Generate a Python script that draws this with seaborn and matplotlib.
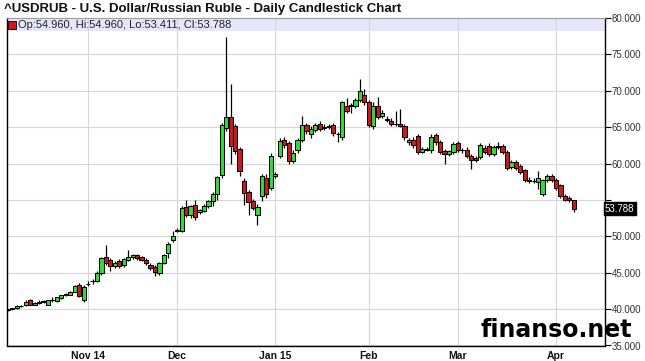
import numpy as np
import pandas as pd
import matplotlib
matplotlib.use("Agg")
import matplotlib.pyplot as plt
import matplotlib.transforms as mtransforms
from matplotlib.patches import Rectangle
import seaborn as sns

# ---------------- data ----------------
holidays = ["2014-12-25", "2015-01-01"]
dates = pd.bdate_range("2014-10-08", "2015-04-07")
dates = dates[~dates.isin(pd.to_datetime(holidays))]

opens = [39.85, 40.0, 40.1, 40.4, 40.5, 41.2, 40.6, 40.9, 41.0, 40.6, 41.2, 41.1, 41.5, 41.9, 42.0, 42.4, 43.3, 41.2,
         43.4, 43.8, 43.9, 44.9, 47.1, 46.7, 45.9, 46.6, 46.0, 46.8, 47.1, 47.4, 47.1, 46.8, 46.1, 45.8, 44.9, 46.4, 47.7, 49.5,
         50.8, 50.8, 54.0, 52.9, 54.3, 53.3, 53.5, 54.1, 54.8, 55.8, 58.4, 64.9, 66.4, 65.1, 62.0, 57.6, 56.1, 54.8, 52.9, 55.6, 58.0, 56.7,
         58.3, 61.0, 63.2, 62.8, 60.3, 61.8, 63.2, 65.3, 64.0, 64.6, 65.4, 64.9, 65.0, 65.3, 64.1, 63.6, 67.9, 67.9, 67.9, 68.7, 69.4,
         68.4, 65.1, 67.9, 66.5, 66.0, 65.8, 65.4, 65.4, 65.2, 62.9, 63.2, 63.8, 61.6, 62.0, 61.8, 63.9, 62.9, 61.7, 61.3, 61.6,
         62.8, 61.9, 61.8, 61.0, 60.7, 60.9, 62.1, 62.4, 61.3, 62.3, 62.4, 61.6, 59.5, 60.2, 59.6, 59.1, 57.8, 57.6, 57.4, 55.8, 57.7, 58.3,
         57.7, 57.0, 55.5, 55.3, 54.96]
highs = [40.05, 40.2, 40.5, 40.6, 41.2, 41.4, 41.0, 41.3, 41.3, 41.3, 41.6, 41.7, 42.0, 42.2, 42.5, 43.3, 43.6, 43.3,
         43.8, 44.1, 45.2, 47.2, 48.8, 47.0, 46.6, 46.9, 47.0, 48.1, 47.6, 47.6, 47.3, 47.0, 46.3, 46.0, 46.5, 47.6, 49.2, 50.7,
         51.2, 54.1, 55.0, 54.3, 55.0, 53.8, 54.4, 55.0, 56.1, 58.3, 65.6, 77.4, 70.9, 65.5, 62.3, 58.0, 56.4, 55.1, 54.4, 58.6, 58.5, 61.5,
         58.8, 63.5, 63.6, 63.1, 61.8, 63.5, 66.5, 65.6, 65.2, 65.6, 65.8, 65.5, 65.4, 65.6, 64.4, 68.6, 69.0, 68.3, 69.0, 71.6, 70.2,
         68.8, 68.5, 69.2, 67.3, 66.5, 66.2, 67.2, 67.5, 65.5, 63.5, 63.6, 64.1, 62.3, 62.3, 64.0, 64.2, 63.2, 62.0, 61.9, 63.0,
         63.1, 62.2, 62.3, 61.3, 61.0, 62.8, 62.5, 62.8, 62.6, 63.0, 62.7, 61.9, 60.5, 60.5, 59.9, 59.3, 58.1, 58.0, 59.0, 57.9, 58.6, 58.6,
         58.0, 57.2, 55.8, 55.5, 54.96]
lows = [39.75, 39.9, 40.0, 40.3, 40.4, 40.5, 40.5, 40.7, 40.8, 40.5, 41.0, 41.0, 41.4, 41.8, 41.9, 42.3, 41.7, 41.0,
        43.2, 43.5, 43.7, 44.7, 46.0, 45.2, 45.7, 45.6, 45.8, 46.6, 46.9, 46.8, 46.6, 46.1, 45.4, 44.6, 44.7, 46.2, 47.0, 49.2,
        50.6, 50.6, 52.7, 52.5, 52.3, 53.0, 53.3, 53.9, 54.2, 55.0, 58.0, 64.5, 60.0, 61.3, 58.3, 54.3, 52.9, 53.6, 51.5, 54.9, 55.3, 56.3,
        58.0, 60.7, 62.2, 60.0, 60.1, 61.5, 63.0, 64.1, 63.5, 64.3, 64.5, 64.6, 64.8, 63.8, 63.0, 63.3, 66.9, 67.0, 67.6, 68.4, 68.0,
        65.0, 64.8, 66.1, 66.2, 65.7, 65.2, 65.1, 65.0, 63.2, 62.5, 62.2, 61.3, 61.4, 61.7, 61.5, 62.6, 61.3, 60.0, 61.0, 61.3,
        61.6, 61.5, 60.8, 59.2, 60.2, 60.6, 61.3, 61.0, 61.0, 62.0, 61.3, 59.1, 59.2, 59.1, 58.5, 57.4, 57.3, 57.3, 56.5, 55.6, 57.4, 57.4,
        56.4, 55.3, 54.8, 54.7, 53.411]
closes = [40.0, 40.1, 40.4, 40.45, 41.0, 40.6, 40.9, 41.0, 41.0, 41.2, 41.3, 41.6, 41.9, 42.1, 42.4, 43.2, 41.8, 43.1,
          43.5, 43.9, 45.0, 47.0, 46.3, 45.9, 46.4, 45.9, 46.9, 47.2, 47.4, 47.0, 46.8, 46.3, 45.6, 45.1, 46.3, 47.4, 49.0, 50.1,
          50.9, 53.9, 52.9, 54.1, 52.6, 53.6, 54.2, 54.8, 55.8, 58.1, 65.3, 66.4, 62.4, 61.7, 59.0, 55.9, 54.7, 53.9, 54.0, 58.3, 55.8, 61.0,
          58.5, 63.1, 62.5, 60.3, 61.4, 63.2, 65.3, 64.5, 64.8, 65.3, 64.8, 65.0, 65.1, 64.2, 64.0, 68.4, 67.2, 68.0, 68.7, 70.0, 68.4,
          65.3, 67.9, 66.4, 66.9, 66.1, 65.5, 65.45, 65.2, 63.6, 63.2, 62.5, 61.6, 62.0, 61.9, 63.6, 62.9, 61.6, 61.3, 61.7, 62.7,
          61.9, 61.8, 61.0, 60.5, 60.5, 62.5, 61.6, 61.3, 62.3, 62.4, 61.6, 59.4, 60.2, 59.4, 58.8, 57.7, 57.6, 57.65, 58.0, 57.7, 58.3, 57.7,
          56.7, 55.6, 55.0, 54.96, 53.788]

month_labels = ["Nov 14", "Dec", "Jan 15", "Feb", "Mar", "Apr"]
month_starts = ["2014-11-03", "2014-12-01", "2015-01-02", "2015-02-02", "2015-03-02", "2015-04-01"]
y_ticks = [35, 40, 45, 50, 55, 60, 65, 70, 75, 80]
title = "^USDRUB - U.S. Dollar/Russian Ruble - Daily Candlestick Chart"

df = pd.DataFrame({"date": dates, "open": opens, "high": highs, "low": lows, "close": closes})
df["idx"] = np.arange(len(df))
df["up"] = df["close"] >= df["open"]

UP = "#33DD33"
DOWN = "#D01818"

sns.set_theme(style="white")
plt.rcParams["font.family"] = ["Liberation Sans", "DejaVu Sans"]

fig = plt.figure(figsize=(6.45, 3.61), dpi=100)
ax = fig.add_axes([7 / 645, 1 - 345.5 / 361, 598 / 645, 327.5 / 361])

# wicks
ax.vlines(df["idx"], df["low"], df["high"], color="black", lw=0.9, zorder=2)
# bodies
body_bottom = np.minimum(df["open"], df["close"])
body_h = np.maximum(np.abs(df["close"] - df["open"]), 0.06)
colors = np.where(df["up"], UP, DOWN)
ax.bar(df["idx"], body_h, bottom=body_bottom, width=0.95, color=colors,
       edgecolor="black", linewidth=0.75, zorder=3)

ax.set_xlim(-0.2, 134.0)
ax.set_ylim(35, 80)

last = df.iloc[-1]

# axes / grid
tick_pos = [int(df.index[df["date"] == pd.Timestamp(d)][0]) for d in month_starts]
ax.set_xticks(tick_pos)
ax.set_xticklabels(month_labels, fontsize=7.5, fontweight="bold", color="#111111")
ax.set_yticks(y_ticks)
ax.set_yticklabels(["" if abs(v - last["close"]) < 2 else f"{v:.3f}" for v in y_ticks],
                   fontsize=7, color="#333333")
ax.yaxis.tick_right()
ax.tick_params(axis="y", direction="out", length=4, width=0.8, color="black", pad=1)
ax.tick_params(axis="x", length=0, pad=4)
ax.grid(True, color="#D6D6D6", lw=0.8)
ax.set_axisbelow(True)
for s in ["left", "bottom", "right"]:
    ax.spines[s].set_color("black")
    ax.spines[s].set_linewidth(1.0)
ax.spines["top"].set_color("#9a9aa8")
ax.spines["top"].set_linewidth(0.8)

blend = mtransforms.blended_transform_factory(ax.transAxes, ax.transData)

# legend band
band = Rectangle((0, (78.2 - 35) / 45), 1, (80 - 78.2) / 45, transform=ax.transAxes,
                 facecolor="#E6E6FA", edgecolor="none", zorder=0.2)
ax.add_patch(band)
ax.plot([0.008], [79.1], marker="s", ms=5.5, mfc=DOWN, mec="black", mew=0.6,
        transform=blend, zorder=5)
ax.text(0.018, 79.1, f"Op:{last['open']:.3f}, Hi:{last['high']:.3f}, Lo:{last['low']:.3f}, Cl:{last['close']:.3f}",
        transform=blend, fontsize=8, va="center", ha="left", color="#222222", zorder=5)

# last price label
ax.text(1.0, last["close"], f"{last['close']:.3f}", transform=blend,
        fontsize=7, color="white", va="center", ha="left",
        bbox=dict(boxstyle="square,pad=0.15", fc="black", ec="black"), zorder=6, clip_on=False)

fig.text(4 / 645, 1 - 9 / 361, title, fontsize=9.5, fontweight="bold", va="center", ha="left", color="#111111")
fig.text(632 / 645, 1 - 337 / 361, "finanso.net", fontsize=17, fontweight="bold", ha="right", va="baseline",
         color="black", family="DejaVu Sans")

fig.savefig("out.png", dpi=100)
